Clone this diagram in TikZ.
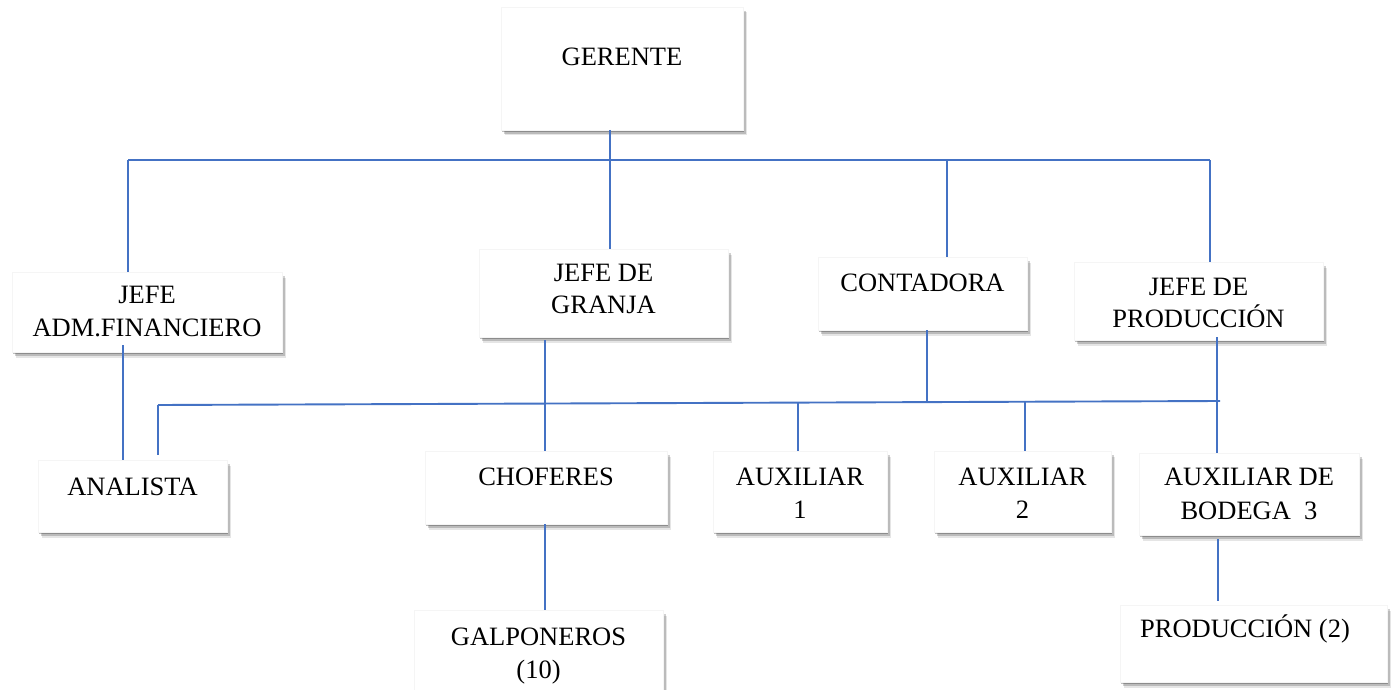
\documentclass[tikz,border=0pt]{standalone}
\usepackage{fontspec}
\setmainfont{Liberation Serif}
\usetikzlibrary{shadows,calc}
\definecolor{linkblue}{HTML}{4472C4}
\tikzset{
  box/.style={rectangle, fill=white, draw=black!4, line width=0.4pt, inner sep=0pt, outer sep=0pt,
    drop shadow={shadow xshift=1pt, shadow yshift=-2pt, opacity=0.25, fill=black},
    drop shadow={shadow xshift=2.5pt, shadow yshift=-4pt, opacity=0.18, fill=black},
    drop shadow={shadow xshift=3.5pt, shadow yshift=-5.5pt, opacity=0.10, fill=black}},
  txt/.style={font=\fontsize{26.5}{32}\selectfont, anchor=base, inner sep=0pt},
  conn/.style={draw=linkblue, line width=1.9pt}
}
\begin{document}
\begin{tikzpicture}[x=1pt,y=-1pt]
\useasboundingbox[fill=white] (0,0) rectangle (1394,690);
% boxes
\node[box, minimum width=242, minimum height=123] (ger)   at (622,68.5)   {};
\node[box, minimum width=270, minimum height=80]  (adm)   at (147,312)    {};
\node[box, minimum width=249, minimum height=88]  (gran)  at (603.5,293)  {};
\node[box, minimum width=209, minimum height=73]  (cont)  at (922.5,293.5){};
\node[box, minimum width=249, minimum height=78]  (jprod) at (1198.5,301) {};
\node[box, minimum width=189, minimum height=72]  (anal)  at (132.5,496)  {};
\node[box, minimum width=242, minimum height=73]  (chof)  at (546,487.5)  {};
\node[box, minimum width=174, minimum height=81]  (aux1)  at (800,491.5)  {};
\node[box, minimum width=177, minimum height=81]  (aux2)  at (1022.5,491.5){};
\node[box, minimum width=220, minimum height=82]  (bod)   at (1249,494)   {};
\node[box, minimum width=249, minimum height=90]  (galp)  at (538.5,655)  {};
\node[box, minimum width=267, minimum height=77]  (prod2) at (1253.5,643.5){};
% texts
\node[txt] (tger)   at (622,66)      {GERENTE};
\node[txt] (tadm1)  at (147,303.6)   {JEFE};
\node[txt] (tadm2)  at (147,336.6)   {ADM.FINANCIERO};
\node[txt] (tgran1) at (603.5,281.6) {JEFE DE};
\node[txt] (tgran2) at (603.5,313.6) {GRANJA};
\node[txt] (tcont)  at (922.5,291.6) {CONTADORA};
\node[txt] (tjp1)   at (1198.5,295.3){JEFE DE};
\node[txt] (tjp2)   at (1198.5,327.6){PRODUCCIÓN};
\node[txt] (tanal)  at (132.5,495.6) {ANALISTA};
\node[txt] (tchof)  at (546,485.6)   {CHOFERES};
\node[txt] (taux1a) at (800,485)     {AUXILIAR};
\node[txt] (taux1b) at (800,518.6)   {1};
\node[txt] (taux2a) at (1022.5,485)  {AUXILIAR};
\node[txt] (taux2b) at (1022.5,518.6){2};
\node[txt] (tbod1)  at (1249,485.6)  {AUXILIAR DE};
\node[txt] (tbod2)  at (1249,519.1)  {BODEGA\ \ 3};
\node[txt] (tgal1)  at (538.5,645.3) {GALPONEROS};
\node[txt] (tgal2)  at (538.5,678.6) {(10)};
\node[txt] (tprod2) at (1245,637.3)  {PRODUCCIÓN (2)};
% bus coordinates
\coordinate (b1l) at (128,160);
\coordinate (b1r) at (1210,160);
\coordinate (b1g) at (610,160);
\coordinate (b1c) at (947,160);
\coordinate (b2l) at (158,405);
\coordinate (b2r) at (1220,401);
\coordinate (b2g) at (545,403.5);
\coordinate (b2c) at (927,402.1);
\coordinate (b2a) at (798,402.6);
\coordinate (b2b) at (1025,401.7);
\coordinate (b2p) at (1217,401);
% connectors
\draw[conn] (b1l) -- (b1r);
\draw[conn] (b1g |- ger.south) -- (b1g |- gran.north);
\draw[conn] (b1l) -- (b1l |- adm.north);
\draw[conn] (b1c) -- (b1c |- cont.north);
\draw[conn] (b1r) -- (b1r |- jprod.north);
\draw[conn] ($(adm.south -| 123,0)+(0,-7)$) -- (anal.north -| 123,0);
\draw[conn] ($(b2g |- gran.south)+(0,3)$) -- (b2g |- chof.north);
\draw[conn] (b2g |- chof.south) -- (b2g |- galp.north);
\draw[conn] (b2c |- cont.south) -- (b2c);
\draw[conn] ($(b2p |- jprod.south)+(0,-3)$) -- (b2p |- bod.north);
\draw[conn] (b2l) -- (b2r);
\draw[conn] (b2l) -- ($(b2l |- anal.north)+(0,-5)$);
\draw[conn] (b2a) -- (b2a |- aux1.north);
\draw[conn] (b2b) -- (b2b |- aux2.north);
\draw[conn] ($(bod.south -| 1218,0)+(0,4)$) -- ($(prod2.north -| 1218,0)+(0,-4)$);
\end{tikzpicture}
\end{document}
